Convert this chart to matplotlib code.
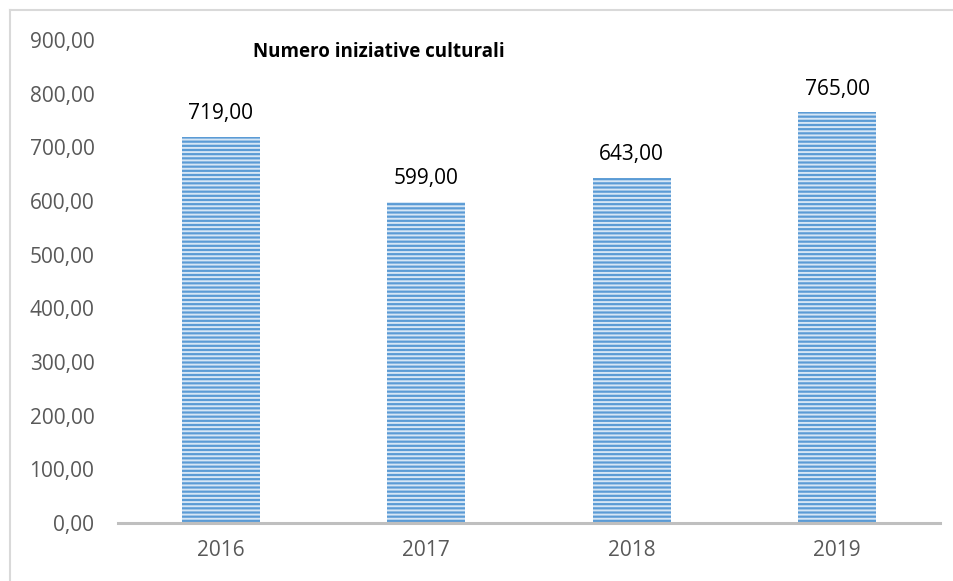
import matplotlib.pyplot as plt
from matplotlib.lines import Line2D

anni = ['2016', '2017', '2018', '2019']
iniziative = [719, 599, 643, 765]
tick_y = [0, 100, 200, 300, 400, 500, 600, 700, 800, 900]

plt.rcParams['font.family'] = ['Open Sans', 'DejaVu Sans']
plt.rcParams['hatch.linewidth'] = 1.4

fig = plt.figure(figsize=(9.54, 5.81), dpi=100)
ax = fig.add_axes([118/954, 1 - 523/581, (940 - 118)/954, (523 - 40)/581])

x = range(len(anni))
ax.bar(x, iniziative, width=0.38, color='#5B9BD5', edgecolor='#D6E6F5',
       linewidth=0, hatch='----')

for i, v in zip(x, iniziative):
    ax.text(i, v + 24, f'{v:.2f}'.replace('.', ','), ha='center', va='bottom',
            fontsize=15, color='black')

ax.set_xlim(-0.5, 3.5)
ax.set_ylim(0, 900)
ax.set_yticks(tick_y)
ax.set_yticklabels([f'{t:.2f}'.replace('.', ',') for t in tick_y])
ax.set_xticks(list(x))
ax.set_xticklabels(anni)
ax.tick_params(length=0, labelsize=15, colors='#595959')
ax.tick_params(axis='y', pad=17)
ax.tick_params(axis='x', pad=12)
for s in ['top', 'right', 'left']:
    ax.spines[s].set_visible(False)
ax.spines['bottom'].set_color('#BFBFBF')
ax.spines['bottom'].set_linewidth(2.2)

fig.text(253/954, 1 - 52/581, 'Numero iniziative culturali', fontsize=13.5,
         fontweight='bold', color='black', ha='left', va='center')

# cornice del grafico (solo lati sinistro e superiore visibili)
fig.add_artist(Line2D([10/954, 10/954], [0, 1 - 10/581], color='#D9D9D9', lw=1.5))
fig.add_artist(Line2D([10/954, 1], [1 - 10/581, 1 - 10/581], color='#D9D9D9', lw=1.5))

fig.savefig('out.png', dpi=100)
